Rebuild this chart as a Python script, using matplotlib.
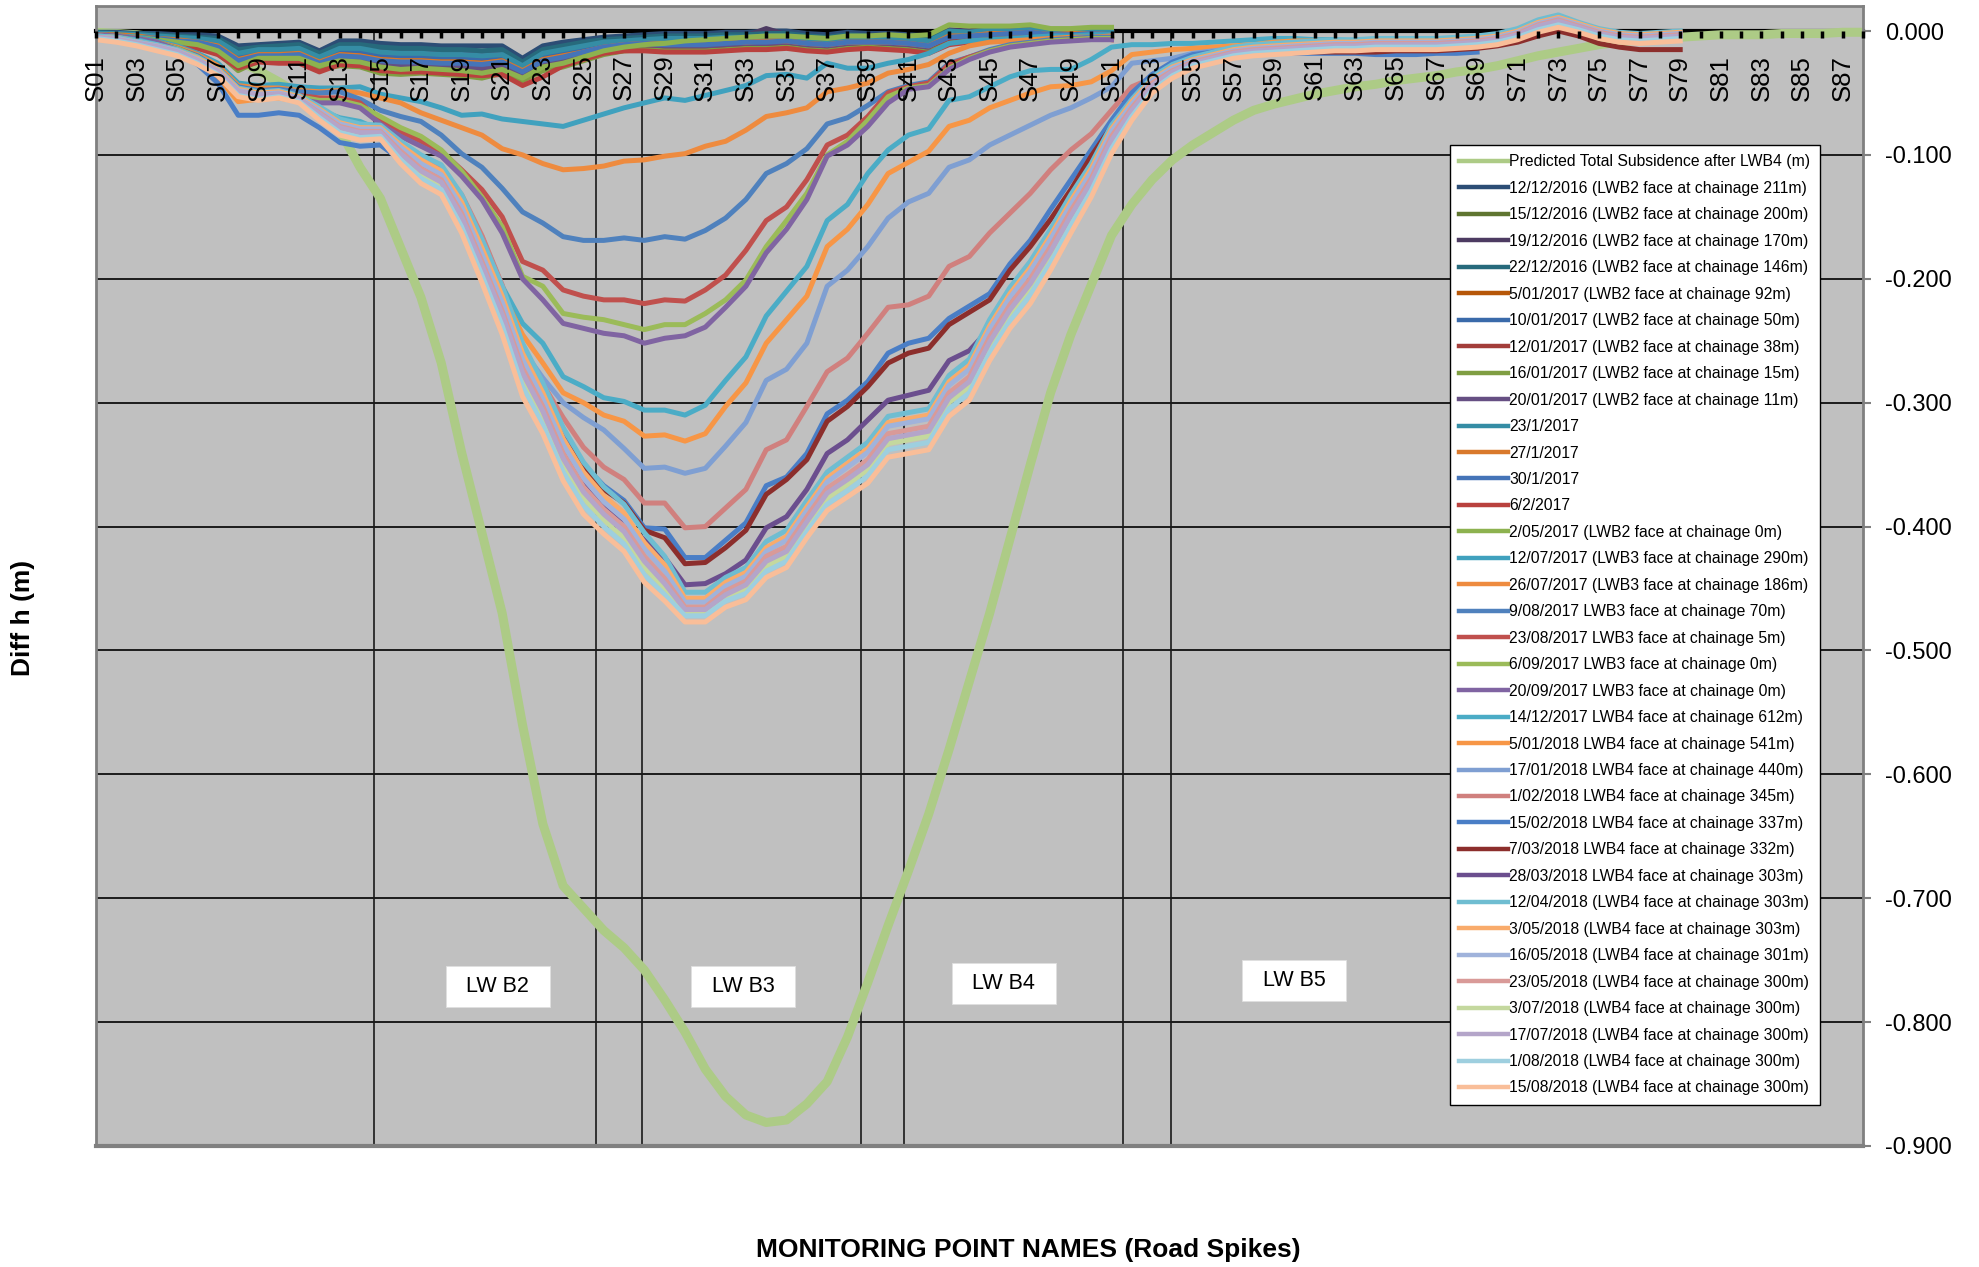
import numpy as np
import matplotlib
matplotlib.use("Agg")
import matplotlib.pyplot as plt
from matplotlib import font_manager
from matplotlib.patches import Rectangle

# monitoring points S01..S88
points = ["S%02d" % n for n in range(1, 89)]

# subsidence values in mm, one entry per monitoring point (from S01)
predicted = [-1, -2, -3, -5, -8, -12, -17, -24, -32, -41,
             -51, -63, -80, -110, -135, -175, -215, -268, -340, -405,
             -470, -560, -640, -690, -708, -726, -740, -758, -782, -808,
             -838, -860, -875, -881, -879, -866, -848, -812, -768, -722,
             -678, -632, -580, -525, -470, -410, -350, -292, -245, -205,
             -165, -140, -120, -104, -92, -82, -72, -64, -59, -55,
             -51, -48, -45, -43, -40, -38, -36, -33, -31, -28,
             -24, -20, -17, -14, -11, -9, -7, -6, -5, -4,
             -3, -3, -3, -2, -2, -2, -1, -1]

# LWB2 period (S01..S51)
d_121216 = [-1, -1, -2, -2, -3, -3, -4, -12, -11, -10, -9, -16, -8, -8, -10, -11, -11, -12, -12, -12,
            -12, -22, -12, -9, -7, -5, -4, -3, -2, -2, -2, -1, -1, 0, 0, -2, -3, -1, -2, -2,
            -3, -4, -1, 0, 1, 0, 1, -1, -1, 0, 1]
d_151216 = [-3, -3, -4, -5, -7, -8, -11, -22, -18, -18, -17, -24, -18, -19, -22, -23, -23, -24, -24, -25,
            -23, -31, -22, -19, -16, -12, -10, -9, -9, -9, -9, -8, -8, -7, -7, -9, -10, -8, -8, -8,
            -9, -11, -3, -3, -1, -1, 0, -2, -2, -1, -2]
d_191216 = [-2, -2, -3, -4, -5, -6, -8, -17, -14, -14, -13, -20, -13, -13, -16, -17, -17, -18, -18, -19,
            -18, -27, -17, -14, -11, -9, -7, -6, -6, -6, -6, -5, -4, 2, -3, -5, -6, -4, -5, -5,
            -6, -7, 1, 0, 3, 1, 2, -1, 0, 1, 1]
d_221216 = [-1, -2, -2, -3, -4, -5, -6, -15, -13, -12, -11, -18, -11, -11, -13, -14, -14, -15, -15, -16,
            -15, -25, -15, -12, -9, -7, -6, -5, -4, -4, -4, -3, -3, -2, -2, -4, -5, -3, -4, -4,
            -5, -6, 0, -1, 1, 0, 1, -1, -1, 0, 0]
d_050117 = [-2, -3, -4, -5, -6, -8, -10, -20, -17, -17, -16, -23, -17, -17, -20, -21, -21, -22, -22, -23,
            -21, -30, -20, -17, -14, -11, -9, -8, -8, -8, -8, -7, -7, -6, -6, -8, -9, -7, -7, -7,
            -8, -10, -2, -2, 0, -1, 0, -1, -1, 0, -1]
d_100117 = [-2, -2, -3, -4, -6, -7, -9, -19, -16, -16, -15, -22, -15, -16, -19, -20, -20, -21, -21, -22,
            -20, -29, -19, -16, -13, -10, -8, -7, -7, -7, -7, -6, -6, -5, -5, -7, -8, -6, -6, -6,
            -7, -9, -1, -2, 0, 0, 1, -1, -1, 0, -1]
d_120117 = [-4, -4, -5, -7, -8, -11, -15, -27, -21, -21, -21, -27, -23, -24, -28, -29, -28, -29, -30, -32,
            -29, -36, -27, -24, -20, -16, -13, -12, -13, -13, -13, -12, -11, -11, -10, -12, -13, -11, -10, -11,
            -12, -14, -7, -5, -4, -3, -2, -4, -3, -3, -4]
d_160117 = [-5, -5, -6, -8, -10, -13, -18, -32, -24, -25, -25, -31, -28, -29, -34, -35, -34, -35, -36, -38,
            -34, -40, -32, -29, -24, -19, -16, -15, -16, -16, -16, -15, -14, -14, -13, -15, -16, -14, -13, -14,
            -15, -17, -10, -8, -6, -5, -4, -5, -4, -4, -6]
d_200117 = [-4, -4, -5, -6, -8, -10, -14, -26, -20, -20, -20, -26, -22, -23, -27, -28, -27, -28, -29, -30,
            -28, -35, -26, -23, -19, -15, -12, -11, -12, -12, -12, -11, -10, -10, -9, -11, -12, -10, -9, -10,
            -11, -13, -2, -1, 0, 1, 1, -1, 0, 0, -1]
d_230117 = [-2, -2, -3, -4, -5, -6, -8, -18, -15, -15, -14, -21, -14, -14, -17, -18, -18, -19, -19, -20,
            -19, -28, -18, -15, -12, -9, -8, -7, -6, -6, -6, -5, -5, -4, -4, -6, -7, -5, -5, -5,
            -6, -8, 0, -1, 1, 0, 1, -1, -1, 0, 0]
d_270117 = [-3, -3, -4, -6, -7, -9, -12, -23, -19, -19, -18, -25, -19, -20, -23, -24, -24, -25, -25, -26,
            -24, -32, -23, -20, -17, -13, -11, -10, -10, -10, -10, -9, -9, -8, -8, -10, -11, -9, -9, -9,
            -10, -12, -4, -4, -2, -2, -1, -3, -2, -2, -3]
d_300117 = [-3, -4, -5, -6, -8, -9, -13, -24, -20, -20, -19, -26, -20, -21, -24, -25, -25, -26, -26, -27,
            -25, -33, -24, -21, -17, -13, -11, -10, -11, -11, -11, -10, -9, -9, -8, -10, -11, -9, -9, -9,
            -10, -12, -5, -4, -3, -2, -1, -3, -3, -2, -3]
d_060217 = [-5, -5, -7, -9, -11, -14, -19, -30, -25, -26, -26, -33, -27, -28, -32, -33, -33, -34, -35, -36,
            -35, -44, -37, -28, -23, -18, -16, -16, -17, -17, -17, -16, -15, -15, -14, -16, -17, -15, -14, -15,
            -16, -18, -11, -9, -7, -6, -5, -6, -5, -5, -7]
d_020517 = [-4, -4, -5, -7, -9, -11, -16, -28, -22, -22, -22, -28, -24, -25, -29, -31, -30, -31, -32, -34,
            -31, -38, -29, -26, -21, -16, -13, -11, -10, -8, -7, -6, -5, -4, -4, -5, -6, -4, -4, -3,
            -4, -3, 5, 4, 4, 4, 5, 2, 2, 3, 3]

# LWB3 period (S01..S51)
d_120717 = [-3, -4, -5, -8, -12, -18, -26, -42, -44, -43, -45, -46, -46, -45, -51, -54, -57, -62, -68, -67,
            -71, -73, -75, -77, -72, -67, -62, -58, -54, -56, -52, -48, -44, -36, -35, -38, -26, -30, -30, -26,
            -23, -18, -10, -8, -7, -6, -5, -4, -4, -3, -3]
d_260717 = [-3, -4, -6, -9, -13, -19, -28, -44, -46, -46, -48, -49, -48, -50, -54, -58, -66, -72, -78, -84,
            -95, -100, -107, -112, -111, -109, -105, -104, -101, -99, -93, -89, -80, -69, -66, -62, -49, -46, -42, -34,
            -31, -27, -18, -12, -9, -8, -7, -6, -5, -5, -4]
d_090817 = [-3, -4, -6, -9, -14, -20, -30, -45, -48, -47, -49, -50, -49, -55, -64, -69, -73, -84, -99, -110,
            -127, -146, -155, -166, -169, -169, -167, -169, -166, -168, -161, -151, -136, -115, -107, -95, -75, -70, -60, -49,
            -44, -41, -26, -21, -15, -11, -9, -7, -6, -5, -5]
d_230817 = [-3, -4, -6, -9, -14, -21, -31, -47, -50, -50, -52, -54, -54, -58, -72, -81, -89, -97, -112, -128,
            -150, -186, -193, -209, -214, -217, -217, -220, -217, -218, -209, -197, -177, -153, -142, -120, -92, -84, -69, -50,
            -45, -42, -27, -21, -16, -12, -10, -8, -7, -6, -6]
d_060917 = [-3, -4, -6, -9, -14, -21, -32, -48, -51, -51, -53, -56, -56, -60, -69, -78, -85, -96, -113, -134,
            -158, -198, -206, -228, -231, -233, -237, -241, -237, -237, -228, -217, -201, -174, -153, -131, -100, -89, -72, -53,
            -46, -44, -30, -22, -16, -12, -10, -8, -7, -6, -6]
d_200917 = [-3, -4, -6, -9, -15, -22, -33, -50, -53, -53, -55, -58, -58, -62, -75, -85, -93, -101, -117, -136,
            -163, -200, -217, -236, -240, -244, -246, -252, -248, -246, -239, -223, -206, -179, -160, -136, -101, -92, -77, -58,
            -47, -45, -31, -23, -17, -13, -11, -9, -8, -7, -7]

# LWB4 period (S01..S79)
d_141217 = [-4, -5, -7, -11, -17, -25, -36, -55, -54, -53, -56, -64, -70, -73, -80, -92, -104, -117, -141, -166,
            -206, -236, -252, -279, -287, -296, -299, -306, -306, -310, -302, -282, -263, -230, -210, -190, -153, -140, -115, -96,
            -84, -79, -56, -53, -45, -37, -32, -31, -31, -23, -13, -11, -11, -10, -10, -9, -8, -7, -6, -6,
            -7, -7, -8, -8, -8, -8, -7, -6, -5, -3, -1, 4, 9, 4, -2, -4, -5, -4, -3]
d_050118 = [-4, -5, -8, -12, -18, -26, -37, -57, -55, -54, -57, -66, -72, -76, -84, -98, -112, -120, -141, -174,
            -211, -245, -268, -292, -300, -310, -315, -327, -326, -331, -325, -303, -284, -252, -233, -214, -174, -160, -140, -115,
            -106, -97, -77, -72, -62, -56, -50, -45, -44, -41, -32, -19, -17, -15, -14, -13, -12, -11, -9, -8,
            -8, -8, -8, -8, -8, -8, -8, -7, -6, -4, -1, 4, 9, 4, -1, -4, -5, -4, -3]
d_170118 = [-4, -6, -8, -12, -16, -23, -33, -52, -53, -52, -56, -65, -73, -77, -80, -94, -114, -124, -148, -180,
            -215, -257, -280, -300, -312, -322, -337, -353, -352, -357, -353, -335, -316, -282, -273, -252, -206, -193, -174, -151,
            -138, -131, -110, -104, -92, -84, -76, -68, -62, -54, -45, -26, -24, -22, -18, -16, -14, -12, -11, -10,
            -10, -10, -10, -10, -10, -10, -10, -9, -8, -6, -2, 4, 9, 4, -1, -4, -5, -4, -3]
d_010218 = [-5, -6, -9, -12, -16, -23, -33, -50, -52, -51, -55, -65, -75, -79, -79, -94, -104, -112, -132, -165,
            -205, -262, -285, -312, -336, -352, -362, -381, -381, -401, -400, -385, -370, -338, -330, -303, -275, -264, -244, -223,
            -221, -214, -190, -182, -163, -147, -131, -112, -96, -83, -64, -45, -38, -30, -23, -19, -17, -16, -15, -14,
            -14, -14, -14, -13, -13, -13, -13, -12, -11, -9, -5, 2, 6, 2, -3, -6, -7, -6, -5]
d_150218 = [-4, -6, -9, -13, -18, -27, -42, -68, -68, -66, -68, -78, -90, -93, -92, -104, -112, -120, -143, -180,
            -222, -268, -296, -328, -350, -367, -379, -401, -402, -425, -425, -411, -397, -367, -360, -341, -309, -298, -283, -260,
            -252, -248, -232, -222, -212, -188, -169, -144, -120, -96, -72, -50, -35, -25, -19, -17, -16, -16, -17, -18,
            -18, -18, -18, -19, -19, -19, -18, -18, -17]
d_070318 = [-5, -6, -9, -12, -16, -23, -33, -50, -52, -51, -55, -66, -76, -80, -80, -96, -108, -116, -140, -178,
            -220, -270, -298, -330, -352, -370, -381, -403, -409, -430, -429, -417, -403, -374, -362, -346, -315, -303, -287, -268,
            -260, -256, -237, -227, -217, -193, -174, -152, -128, -101, -77, -56, -40, -28, -22, -19, -18, -17, -17, -17,
            -17, -17, -17, -17, -16, -16, -16, -15, -14, -12, -9, -4, 0, -4, -10, -13, -15, -15, -15]
d_280318 = [-5, -6, -9, -12, -16, -23, -33, -50, -52, -51, -55, -66, -76, -80, -80, -97, -110, -119, -145, -185,
            -225, -272, -303, -340, -365, -384, -395, -411, -425, -447, -446, -438, -427, -401, -392, -370, -341, -330, -314, -298,
            -294, -290, -266, -258, -240, -215, -190, -163, -136, -108, -81, -58, -40, -30, -24, -20, -17, -15, -14, -13,
            -12, -12, -11, -11, -11, -11, -11, -10, -9, -7, -3, 4, 8, 3, -2, -5, -6, -5, -4]
d_120418 = [-4, -5, -8, -11, -15, -21, -30, -46, -49, -48, -52, -61, -71, -75, -76, -89, -100, -108, -132, -168,
            -206, -252, -284, -320, -348, -368, -382, -405, -424, -453, -453, -441, -433, -412, -403, -379, -356, -344, -332, -311,
            -308, -305, -278, -265, -233, -207, -186, -160, -132, -107, -76, -55, -37, -27, -21, -17, -13, -11, -10, -9,
            -8, -7, -7, -6, -6, -6, -6, -5, -4, -2, 2, 9, 13, 7, 2, -1, -2, -1, 0]
d_030518 = [-5, -6, -9, -12, -16, -22, -31, -47, -50, -49, -53, -63, -74, -78, -78, -92, -104, -113, -138, -175,
            -214, -260, -292, -329, -356, -375, -389, -413, -431, -458, -458, -445, -437, -417, -408, -384, -361, -349, -337, -316,
            -313, -310, -283, -270, -238, -212, -191, -165, -137, -111, -79, -57, -39, -29, -23, -19, -15, -13, -12, -11,
            -10, -9, -9, -8, -8, -8, -8, -7, -6, -4, 0, 7, 11, 6, 1, -2, -3, -2, -1]
d_160518 = [-5, -6, -9, -12, -16, -23, -32, -48, -51, -50, -54, -64, -75, -79, -79, -94, -107, -116, -142, -180,
            -219, -265, -297, -334, -361, -380, -394, -418, -436, -461, -461, -448, -440, -420, -411, -387, -364, -352, -340, -319,
            -316, -313, -286, -273, -241, -215, -194, -168, -140, -114, -81, -59, -40, -30, -24, -20, -16, -14, -13, -12,
            -11, -10, -10, -9, -9, -9, -9, -8, -7, -5, -1, 6, 10, 5, 0, -3, -4, -3, -2]
d_230518 = [-5, -7, -10, -13, -17, -24, -33, -49, -52, -51, -55, -66, -77, -81, -81, -97, -111, -120, -147, -186,
            -226, -272, -303, -341, -368, -386, -400, -424, -442, -465, -465, -452, -444, -424, -416, -392, -369, -358, -346, -325,
            -322, -319, -292, -279, -247, -221, -200, -174, -145, -119, -85, -62, -42, -32, -25, -21, -17, -15, -14, -13,
            -12, -11, -11, -10, -10, -10, -10, -9, -8, -6, -2, 5, 9, 4, -1, -4, -5, -4, -3]
d_030718 = [-6, -8, -11, -14, -18, -25, -34, -50, -53, -52, -56, -68, -80, -84, -83, -101, -116, -125, -154, -193,
            -233, -281, -312, -350, -377, -395, -409, -433, -450, -469, -469, -457, -450, -432, -424, -400, -377, -366, -354, -333,
            -330, -327, -300, -287, -255, -229, -208, -182, -152, -125, -91, -66, -46, -34, -27, -23, -19, -17, -16, -15,
            -14, -13, -13, -12, -12, -12, -12, -11, -10, -8, -4, 2, 6, 2, -3, -6, -7, -6, -5]
d_170718 = [-5, -7, -10, -13, -17, -24, -33, -49, -52, -51, -55, -67, -78, -82, -82, -99, -113, -122, -150, -189,
            -229, -276, -307, -345, -372, -390, -404, -428, -446, -467, -467, -455, -447, -428, -420, -396, -373, -362, -350, -329,
            -326, -323, -296, -283, -251, -225, -204, -178, -149, -122, -88, -64, -44, -33, -26, -22, -18, -16, -15, -14,
            -13, -12, -12, -11, -11, -11, -11, -10, -9, -7, -3, 4, 8, 3, -2, -5, -6, -5, -4]
d_010818 = [-6, -8, -11, -15, -19, -26, -35, -52, -55, -53, -57, -70, -82, -86, -85, -104, -119, -128, -158, -197,
            -238, -287, -318, -356, -383, -400, -414, -439, -455, -472, -472, -460, -454, -436, -428, -404, -382, -371, -359, -338,
            -335, -332, -305, -292, -260, -234, -213, -187, -157, -129, -95, -69, -48, -36, -28, -24, -20, -18, -17, -16,
            -15, -14, -14, -13, -13, -13, -13, -12, -11, -9, -5, 1, 5, 1, -4, -7, -8, -7, -6]
d_150818 = [-7, -9, -12, -16, -20, -27, -36, -53, -56, -54, -58, -72, -84, -88, -87, -107, -123, -132, -163, -203,
            -245, -295, -325, -363, -390, -406, -420, -445, -460, -477, -477, -465, -459, -441, -433, -409, -387, -376, -365, -344,
            -341, -338, -311, -298, -266, -240, -220, -193, -163, -134, -99, -72, -50, -38, -30, -26, -22, -20, -19, -18,
            -17, -16, -16, -15, -15, -15, -15, -14, -13, -11, -7, -1, 3, -1, -6, -9, -10, -9, -8]

series = [predicted,
          d_121216, d_151216, d_191216, d_221216, d_050117, d_100117, d_120117, d_160117, d_200117,
          d_230117, d_270117, d_300117, d_060217, d_020517,
          d_120717, d_260717, d_090817, d_230817, d_060917, d_200917,
          d_141217, d_050118, d_170118, d_010218, d_150218, d_070318, d_280318,
          d_120418, d_030518, d_160518, d_230518, d_030718, d_170718, d_010818, d_150818]

names = ["Predicted Total Subsidence after LWB4 (m)",
         "12/12/2016 (LWB2 face at chainage 211m)",
         "15/12/2016 (LWB2 face at chainage 200m)",
         "19/12/2016 (LWB2 face at chainage 170m)",
         "22/12/2016 (LWB2 face at chainage 146m)",
         "5/01/2017 (LWB2 face at chainage 92m)",
         "10/01/2017 (LWB2 face at chainage 50m)",
         "12/01/2017 (LWB2 face at chainage 38m)",
         "16/01/2017 (LWB2 face at chainage 15m)",
         "20/01/2017 (LWB2 face at chainage 11m)",
         "23/1/2017",
         "27/1/2017",
         "30/1/2017",
         "6/2/2017",
         "2/05/2017 (LWB2 face at chainage 0m)",
         "12/07/2017 (LWB3 face at chainage 290m)",
         "26/07/2017 (LWB3 face at chainage 186m)",
         "9/08/2017 LWB3 face at chainage 70m)",
         "23/08/2017 LWB3 face at chainage 5m)",
         "6/09/2017 LWB3 face at chainage 0m)",
         "20/09/2017 LWB3 face at chainage 0m)",
         "14/12/2017 LWB4 face at chainage 612m)",
         "5/01/2018 LWB4 face at chainage 541m)",
         "17/01/2018 LWB4 face at chainage 440m)",
         "1/02/2018 LWB4 face at chainage 345m)",
         "15/02/2018 LWB4 face at chainage 337m)",
         "7/03/2018 LWB4 face at chainage 332m)",
         "28/03/2018 LWB4 face at chainage 303m)",
         "12/04/2018 (LWB4 face at chainage 303m)",
         "3/05/2018 (LWB4 face at chainage 303m)",
         "16/05/2018 (LWB4 face at chainage 301m)",
         "23/05/2018 (LWB4 face at chainage 300m)",
         "3/07/2018 (LWB4 face at chainage 300m)",
         "17/07/2018 (LWB4 face at chainage 300m)",
         "1/08/2018 (LWB4 face at chainage 300m)",
         "15/08/2018 (LWB4 face at chainage 300m)"]

colors = ["#ADCB86",
          "#2C4D75", "#5F7530", "#4D3B62", "#276A7C", "#B65708", "#3A6AAA", "#A33D3A", "#7F9E42", "#664F83",
          "#358DA5", "#D9792C", "#4574B8", "#B9413E", "#8DB24F",
          "#40A1BE", "#EE8B3F", "#4F81BD", "#C0504D", "#9BBB59", "#8064A2",
          "#4BACC6", "#F79646", "#7F9FD2", "#D0807E", "#4A7EC6", "#8C2E2C", "#6B4E8E",
          "#6FBDD1", "#F9AB6B", "#A0B3DB", "#D99A98", "#C4D89E", "#B4A5C9", "#9ECFDF", "#F9BE99"]

y_ticks = [0.0, -0.1, -0.2, -0.3, -0.4, -0.5, -0.6, -0.7, -0.8, -0.9]
y_tick_labels = ["0.000", "-0.100", "-0.200", "-0.300", "-0.400",
                 "-0.500", "-0.600", "-0.700", "-0.800", "-0.900"]

# panel boundaries and panel labels (category positions)
boundaries = [13.7, 24.6, 26.9, 37.65, 39.8, 50.55, 52.95]
panels = [("LW B2", 19.78, -0.7716), ("LW B3", 31.85, -0.7716),
          ("LW B4", 44.7, -0.7688), ("LW B5", 59.0, -0.7667)]

installed = {f.name for f in font_manager.fontManager.ttflist}
narrow = "Liberation Sans Narrow" if "Liberation Sans Narrow" in installed else "Liberation Sans"
plt.rcParams["font.family"] = ["Liberation Sans", "DejaVu Sans"]

fig = plt.figure(figsize=(19.79, 12.67), dpi=100)
ax = fig.add_axes([96 / 1979, 121 / 1267, 1767 / 1979, 1140 / 1267])
ax.set_facecolor("#C0C0C0")
ax.set_axisbelow(False)

for vals, name, col in zip(series, names, colors):
    x = np.arange(len(vals))
    lw = 6.5 if vals is predicted else 3.6
    ax.plot(x, np.array(vals) / 1000.0, color=col, lw=lw, label=name,
            solid_joinstyle="round", zorder=2)

ax.set_xlim(0, 87)
ax.set_ylim(-0.9, 0.0202)

# gridlines and panel boundaries
for yv in y_ticks[1:-1]:
    ax.axhline(yv, color="black", lw=1.2, zorder=0.5)
ax.vlines(boundaries, -0.9, 0, color="#1a1a1a", lw=1.2, zorder=1)

# category axis along zero
ax.spines["bottom"].set_position(("data", 0))
ax.spines["bottom"].set_color("black")
ax.spines["bottom"].set_linewidth(3)
ax.spines["bottom"].set_zorder(1.5)
for s in ["top", "left", "right"]:
    ax.spines[s].set_color("#808080")
    ax.spines[s].set_linewidth(2)
ax.axhline(-0.9, color="#808080", lw=3, clip_on=False, zorder=1)

ax.set_xticks(np.arange(len(points)))
ax.set_xticklabels([p if i % 2 == 0 else "" for i, p in enumerate(points)],
                   rotation=90, fontsize=18.5)
ax.tick_params(axis="x", direction="out", length=5, width=2.5, color="black", pad=12)
ax.xaxis.set_zorder(3)

ax.yaxis.tick_right()
ax.set_yticks(y_ticks)
ax.set_yticklabels(y_tick_labels, fontsize=17)
ax.tick_params(axis="y", direction="out", length=6, width=1.5, color="#808080", pad=10)

# panel label boxes
for txt, cx, cy in panels:
    ax.add_patch(Rectangle((cx - 2.56, cy - 0.0166), 5.12, 0.0332, facecolor="white",
                           edgecolor="#E0E0E0", lw=0.6, zorder=5))
    ax.text(cx, cy, txt, ha="center", va="center", fontsize=15.5, family=narrow, zorder=6)

leg = ax.legend(loc="upper left", bbox_to_anchor=(0.766, 0.878), fontsize=11.3,
                fancybox=False, edgecolor="black", framealpha=1, facecolor="white",
                handlelength=3.1, handletextpad=0.1, labelspacing=0.73,
                borderpad=0.6, borderaxespad=0)
leg.get_frame().set_linewidth(1)
leg.set_zorder(10)
for h in leg.get_lines():
    h.set_linewidth(3.2)

fig.text(23 / 1979, 0.512, "Diff h (m)", rotation=90, ha="center", va="center",
         fontsize=19, fontweight="bold")
fig.text(1028 / 1979, 0.0134, "MONITORING POINT NAMES (Road Spikes)", ha="center",
         va="center", fontsize=19, fontweight="bold")

fig.savefig("out.png", dpi=100, facecolor="white")
